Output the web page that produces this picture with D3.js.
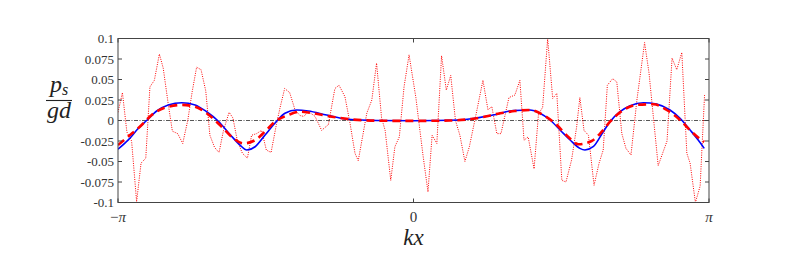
<!DOCTYPE html>
<html>
<head>
<meta charset="utf-8">
<script src="https://cdn.jsdelivr.net/npm/d3@7"></script>
<style>
  body { margin: 0; background: #fff; }
  svg { display: block; }
  .tick-label { font-family: "Liberation Serif", "DejaVu Serif", serif; font-size: 13px; fill: #333; }
  .math { font-family: "Liberation Serif", "DejaVu Serif", serif; font-style: italic; fill: #222; }
</style>
</head>
<body>
<svg id="chart" width="789" height="254"></svg>
<script>
// pressure profile p_s/(gd) against kx, three series

// kx in units of pi
const noisyX = [-1.000, -0.985, -0.970, -0.954, -0.937, -0.922, -0.906, -0.892, -0.877, -0.860,
  -0.847, -0.830, -0.816, -0.798, -0.781, -0.764, -0.749, -0.734, -0.719, -0.703,
  -0.689, -0.673, -0.658, -0.643, -0.624, -0.611, -0.596, -0.579, -0.562, -0.548,
  -0.531, -0.514, -0.498, -0.482, -0.464, -0.452, -0.436, -0.419, -0.401, -0.384,
  -0.371, -0.356, -0.333, -0.311, -0.288, -0.266, -0.252, -0.232, -0.215, -0.198,
  -0.187, -0.158, -0.141, -0.125, -0.108, -0.096, -0.077, -0.063, -0.048, -0.032,
  -0.015, 0.008, 0.032, 0.049, 0.063, 0.079, 0.095, 0.111, 0.126, 0.142,
  0.157, 0.174, 0.189, 0.212, 0.235, 0.252, 0.265, 0.282, 0.296, 0.323,
  0.343, 0.360, 0.374, 0.388, 0.408, 0.423, 0.437, 0.454, 0.471, 0.485,
  0.502, 0.516, 0.535, 0.552, 0.563, 0.577, 0.592, 0.611, 0.628, 0.642,
  0.656, 0.674, 0.688, 0.705, 0.719, 0.736, 0.756, 0.782, 0.797, 0.828,
  0.858, 0.875, 0.891, 0.908, 0.925, 0.936, 0.954, 0.970, 0.985];
const noisyY = [0.010, 0.034, -0.014, -0.025, -0.099, -0.052, -0.046, 0.041, 0.049, 0.081,
  0.064, 0.020, -0.013, -0.016, -0.028, 0.000, 0.035, 0.065, 0.062, 0.036,
  -0.018, -0.033, -0.039, -0.012, 0.010, 0.003, -0.025, -0.040, -0.046, -0.018,
  -0.016, -0.012, -0.036, -0.039, -0.005, 0.015, 0.039, 0.034, 0.013, 0.006,
  0.005, 0.011, 0.005, -0.012, -0.005, 0.039, 0.043, 0.029, -0.003, -0.040,
  -0.049, 0.009, 0.025, 0.070, 0.003, -0.012, -0.073, -0.032, -0.020, 0.041,
  0.080, 0.028, -0.042, -0.087, -0.018, -0.028, 0.079, 0.037, 0.055, 0.000,
  -0.018, -0.050, -0.032, 0.008, 0.049, 0.013, 0.017, -0.016, -0.016, 0.028,
  0.031, 0.049, -0.024, -0.020, -0.059, 0.008, 0.016, 0.100, 0.027, 0.033,
  -0.073, -0.075, -0.048, -0.008, 0.028, -0.012, -0.018, -0.079, -0.052, -0.036,
  0.043, 0.051, 0.047, -0.016, -0.034, -0.042, 0.025, 0.095, 0.058, -0.055,
  -0.025, 0.076, 0.062, 0.083, -0.040, -0.052, -0.100, -0.080, 0.031];

const modelX = [-1.000, -0.966, -0.931, -0.903, -0.869, -0.830, -0.784, -0.739, -0.700, -0.661,
  -0.621, -0.587, -0.564, -0.536, -0.503, -0.469, -0.435, -0.395, -0.356, -0.294,
  -0.221, -0.125, 0.000, 0.157, 0.269, 0.337, 0.394, 0.428, 0.462, 0.496,
  0.530, 0.563, 0.580, 0.608, 0.642, 0.665, 0.699, 0.733, 0.778, 0.823,
  0.868, 0.902, 0.936, 0.964, 0.984];
const modelY = [-0.035, -0.024, -0.0095, 0.0, 0.0116, 0.019, 0.0217, 0.019, 0.0107, -0.0006,
  -0.017, -0.030, -0.036, -0.032, -0.018, -0.0034, 0.0088, 0.0128, 0.0116, 0.0067,
  0.0015, 0.0, -0.0003, 0.0006, 0.0067, 0.012, 0.0128, 0.0088, 0.0006, -0.0116,
  -0.0238, -0.034, -0.036, -0.032, -0.0137, -0.0015, 0.0107, 0.018, 0.0217, 0.020,
  0.0128, 0.0027, -0.0116, -0.024, -0.034];

const filtX = [-1.000, -0.967, -0.920, -0.886, -0.841, -0.784, -0.739, -0.700, -0.649, -0.615,
  -0.576, -0.536, -0.503, -0.469, -0.424, -0.384, -0.350, -0.283, -0.215, -0.113,
  0.000, 0.124, 0.214, 0.293, 0.343, 0.394, 0.439, 0.485, 0.524, 0.558,
  0.603, 0.637, 0.665, 0.710, 0.755, 0.812, 0.857, 0.902, 0.941, 0.975, 0.984];
const filtY = [-0.030, -0.020, -0.0055, 0.0067, 0.0156, 0.019, 0.0168, 0.0088, -0.0076, -0.020,
  -0.028, -0.024, -0.0137, -0.0015, 0.0067, 0.0107, 0.0095, 0.005, 0.0015, -0.0003,
  -0.0005, 0.0, 0.0027, 0.0088, 0.0115, 0.0128, 0.0067, -0.0055, -0.020, -0.029,
  -0.025, -0.0137, -0.0015, 0.0128, 0.019, 0.0198, 0.0128, 0.0006, -0.0137, -0.024, -0.026];

const yTicks = [-0.1, -0.075, -0.05, -0.025, 0, 0.025, 0.05, 0.075, 0.1];
const yTickLabels = ["-0.1", "-0.075", "-0.05", "-0.025", "0", "0.025", "0.05", "0.075", "0.1"];
const xTicks = [-Math.PI, 0, Math.PI];
const xTickSign = ["\u2212", "", ""];
const xTickLabels = ["\u03c0", "0", "\u03c0"];

const svg = d3.select('#chart');
const plotL = 118, plotR = 709, plotT = 38.5, plotB = 202.5;

const x = d3.scaleLinear().domain([-Math.PI, Math.PI]).range([plotL, plotR]);
const y = d3.scaleLinear().domain([-0.1, 0.1]).range([plotB, plotT]);

svg.append('defs').append('clipPath').attr('id', 'clip')
  .append('rect')
    .attr('x', plotL).attr('y', plotT)
    .attr('width', plotR - plotL).attr('height', plotB - plotT);

const plot = svg.append('g').attr('clip-path', 'url(#clip)');

// zero reference line
plot.append('line')
  .attr('x1', plotL).attr('x2', plotR)
  .attr('y1', y(0)).attr('y2', y(0))
  .attr('stroke', '#444')
  .attr('stroke-width', 0.9)
  .attr('stroke-dasharray', '4,1.5,1,1.5');

const toPts = (xs, ys) => xs.map((v, i) => [v * Math.PI, ys[i]]);

const straight = d3.line().x(d => x(d[0])).y(d => y(d[1]));
const smooth = d3.line().x(d => x(d[0])).y(d => y(d[1])).curve(d3.curveMonotoneX);

// noisy data (dotted)
plot.append('path')
  .attr('d', straight(toPts(noisyX, noisyY)))
  .attr('fill', 'none')
  .attr('stroke', '#ff0000')
  .attr('stroke-width', 1)
  .attr('stroke-dasharray', '1,1.3');

// model (solid blue)
plot.append('path')
  .attr('d', smooth(toPts(modelX, modelY)))
  .attr('fill', 'none')
  .attr('stroke', '#0000ff')
  .attr('stroke-width', 1.6);

// filtered (thick dashed red)
plot.append('path')
  .attr('d', smooth(toPts(filtX, filtY)))
  .attr('fill', 'none')
  .attr('stroke', '#ff0000')
  .attr('stroke-width', 2.6)
  .attr('stroke-dasharray', '8,5');

// frame
svg.append('rect')
  .attr('x', plotL).attr('y', plotT)
  .attr('width', plotR - plotL).attr('height', plotB - plotT)
  .attr('fill', 'none')
  .attr('stroke', '#444')
  .attr('stroke-width', 1);

// y ticks (inward, both sides)
const tickLen = 4;
yTicks.forEach((t, i) => {
  svg.append('line')
    .attr('x1', plotL).attr('x2', plotL + tickLen)
    .attr('y1', y(t)).attr('y2', y(t))
    .attr('stroke', '#444');
  svg.append('line')
    .attr('x1', plotR).attr('x2', plotR - tickLen)
    .attr('y1', y(t)).attr('y2', y(t))
    .attr('stroke', '#444');
  svg.append('text')
    .attr('class', 'tick-label')
    .attr('x', plotL - 4)
    .attr('y', y(t) + 4.5)
    .attr('text-anchor', 'end')
    .text(yTickLabels[i]);
});

// x ticks
xTicks.forEach((t, i) => {
  svg.append('line')
    .attr('x1', x(t)).attr('x2', x(t))
    .attr('y1', plotB).attr('y2', plotB - tickLen)
    .attr('stroke', '#444');
  svg.append('line')
    .attr('x1', x(t)).attr('x2', x(t))
    .attr('y1', plotT).attr('y2', plotT + tickLen)
    .attr('stroke', '#444');
  const lbl = svg.append('text')
    .attr('class', 'tick-label')
    .attr('x', x(t))
    .attr('y', plotB + 19)
    .attr('text-anchor', 'middle')
    .style('font-size', '15px');
  if (xTickSign[i]) lbl.append('tspan').text(xTickSign[i]);
  lbl.append('tspan')
    .style('font-style', i === 1 ? 'normal' : 'italic')
    .text(xTickLabels[i]);
});

// x axis title
svg.append('text')
  .attr('class', 'math')
  .attr('x', x(0))
  .attr('y', 245)
  .attr('text-anchor', 'middle')
  .attr('font-size', 23)
  .text('kx');

// y axis title as a fraction p_s / gd
const frac = svg.append('g').attr('transform', 'translate(59,0)');
const num = frac.append('text')
  .attr('class', 'math')
  .attr('x', 0).attr('y', 92)
  .attr('text-anchor', 'middle')
  .attr('font-size', 24);
num.append('tspan').text('p');
num.append('tspan').attr('font-size', 16).attr('dy', 3).text('s');
frac.append('line')
  .attr('x1', -13).attr('x2', 13)
  .attr('y1', 100.5).attr('y2', 100.5)
  .attr('stroke', '#222')
  .attr('stroke-width', 1.1);
frac.append('text')
  .attr('class', 'math')
  .attr('x', 0).attr('y', 118)
  .attr('text-anchor', 'middle')
  .attr('font-size', 24)
  .text('gd');
</script>
</body>
</html>
